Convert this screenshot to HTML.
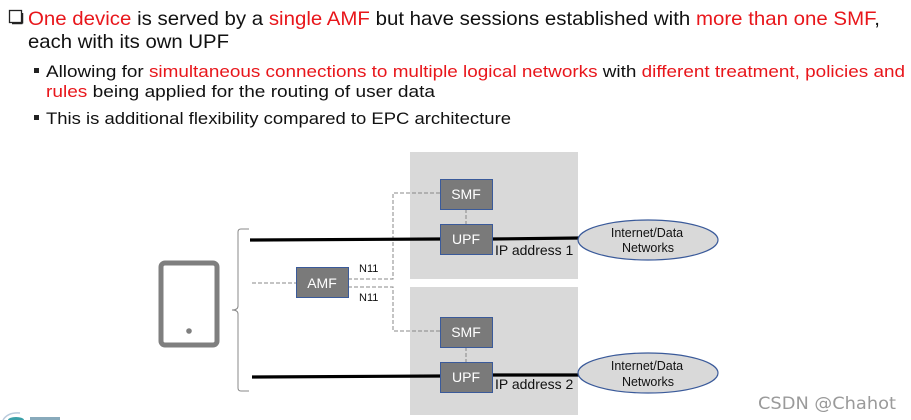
<!DOCTYPE html>
<html><head><meta charset="utf-8"><style>
html,body{margin:0;padding:0;background:#fff;width:911px;height:420px;overflow:hidden}
svg{display:block}
.t{font-family:"Liberation Sans",sans-serif;fill:#111}
.r{fill:#e8161b}
.b{font-family:"Liberation Sans",Arial,sans-serif}
</style></head><body>
<svg width="911" height="420" viewBox="0 0 911 420">
<rect x="9.5" y="10.5" width="12" height="12" fill="none" stroke="#222" stroke-width="1.3"/>
<line x1="12" y1="23.5" x2="22.5" y2="23.5" stroke="#222" stroke-width="1.5"/>
<line x1="22.5" y1="13" x2="22.5" y2="23.5" stroke="#222" stroke-width="1.5"/>
<text class="t" x="28" y="25" font-size="19.5" textLength="852" lengthAdjust="spacingAndGlyphs"><tspan class="r">One device</tspan> is served by a <tspan class="r">single AMF</tspan> but have sessions established with <tspan class="r">more than one SMF</tspan>,</text>
<text class="t" x="28" y="48" font-size="19.5" textLength="201" lengthAdjust="spacingAndGlyphs">each with its own UPF</text>
<rect x="34" y="68" width="5" height="5" fill="#222"/>
<text class="t" x="46" y="77" font-size="17" textLength="859" lengthAdjust="spacingAndGlyphs">Allowing for <tspan class="r">simultaneous connections to multiple logical networks</tspan> with <tspan class="r">different treatment, policies and</tspan></text>
<text class="t" x="46" y="97" font-size="17" textLength="389" lengthAdjust="spacingAndGlyphs"><tspan class="r">rules</tspan> being applied for the routing of user data</text>
<rect x="34" y="115" width="5" height="5" fill="#222"/>
<text class="t" x="46" y="124" font-size="17" textLength="465" lengthAdjust="spacingAndGlyphs">This is additional flexibility compared to EPC architecture</text>

<rect x="410" y="152" width="168" height="127" fill="#d9d9d9"/>
<rect x="410" y="287" width="168" height="128" fill="#d9d9d9"/>

<g stroke="#888" stroke-width="1" stroke-dasharray="4,2" fill="none">
<path d="M252 283 H296"/>
<path d="M348 279 H393 V193 H440"/>
<path d="M348 287 H393 V331 H440"/>
<path d="M466 209 V224"/>
<path d="M466 347 V362"/>
</g>

<g stroke="#000" stroke-width="3.2">
<line x1="250" y1="240" x2="440" y2="239"/>
<line x1="492" y1="239" x2="580" y2="238"/>
<line x1="252" y1="377" x2="442" y2="376"/>
<line x1="492" y1="375" x2="580" y2="375"/>
</g>

<g fill="#7a7a7a" stroke="#3a5a9a" stroke-width="1">
<rect x="440.5" y="179.5" width="52" height="30"/>
<rect x="440.5" y="224.5" width="52" height="30"/>
<rect x="440.5" y="317.5" width="52" height="30"/>
<rect x="440.5" y="362.5" width="52" height="30"/>
<rect x="296.5" y="267.5" width="52" height="30"/>
</g>
<g class="b" fill="#fff" font-size="14" text-anchor="middle">
<text x="466" y="199">SMF</text>
<text x="466" y="244">UPF</text>
<text x="466" y="337">SMF</text>
<text x="466" y="382">UPF</text>
<text x="322" y="288">AMF</text>
</g>
<g class="b" fill="#111" font-size="11">
<text x="359" y="272">N11</text>
<text x="359" y="301">N11</text>
</g>
<g class="b" fill="#111" font-size="14">
<text x="495" y="255">IP address 1</text>
<text x="495" y="389">IP address 2</text>
</g>

<g fill="#d9d9d9" stroke="#3a5a9a" stroke-width="1.2">
<ellipse cx="648" cy="240" rx="70" ry="20"/>
<ellipse cx="648" cy="373" rx="70" ry="20"/>
</g>
<g class="b" fill="#111" font-size="12.5" text-anchor="middle">
<text x="647" y="237">Internet/Data</text>
<text x="648" y="252">Networks</text>
<text x="647" y="370">Internet/Data</text>
<text x="648" y="386">Networks</text>
</g>

<path d="M249 229 H241 Q238 229 238 232 V306 Q238 310 232 310 Q238 310 238 314 V388 Q238 391 241 391 H249" fill="none" stroke="#888" stroke-width="1"/>

<rect x="161" y="263" width="56" height="82" rx="4" fill="none" stroke="#7f7f7f" stroke-width="5"/>
<circle cx="189" cy="331" r="2.8" fill="#7f7f7f"/>

<text x="758" y="409" font-family="'DejaVu Sans','Liberation Sans',sans-serif" font-size="16.5" fill="#9a9a9a" textLength="138" lengthAdjust="spacingAndGlyphs">CSDN @Chahot</text>
<path d="M3 420 Q8 412 20 413" fill="none" stroke="#bcd" stroke-width="1.5"/>
<ellipse cx="16" cy="420" rx="8" ry="3" fill="#3aa0a8"/>
<rect x="30" y="417" width="30" height="3" fill="#8ab"/>
</svg>
</body></html>
